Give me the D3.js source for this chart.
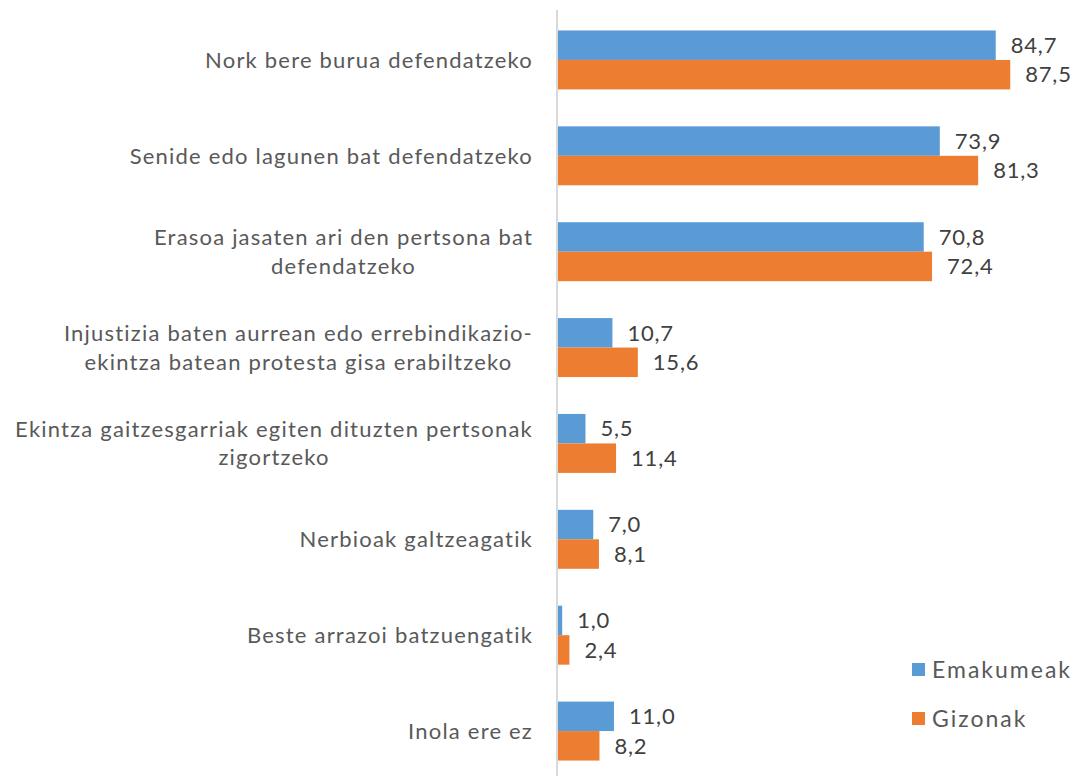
<!DOCTYPE html>
<html>
<head>
<meta charset="utf-8">
<script src="https://cdn.jsdelivr.net/npm/d3@7"></script>
<style>
  body { margin: 0; background: #fff; }
  text { font-family: Lato, "Open Sans", sans-serif; }
</style>
</head>
<body>
<svg width="1090" height="776"></svg>
<script>
// categories, wrapped the way the source chart wraps them
const categories = [
  ["Nork bere burua defendatzeko"],
  ["Senide edo lagunen bat defendatzeko"],
  ["Erasoa jasaten ari den pertsona bat", "defendatzeko"],
  ["Injustizia baten aurrean edo errebindikazio-", "ekintza batean protesta gisa erabiltzeko"],
  ["Ekintza gaitzesgarriak egiten dituzten pertsonak", "zigortzeko"],
  ["Nerbioak galtzeagatik"],
  ["Beste arrazoi batzuengatik"],
  ["Inola ere ez"]
];
const seriesNames = ["Emakumeak", "Gizonak"];
const emakumeak = [84.7, 73.9, 70.8, 10.7, 5.5, 7.0, 1.0, 11.0];
const gizonak = [87.5, 81.3, 72.4, 15.6, 11.4, 8.1, 2.4, 8.2];
const colors = ["#5b9bd5", "#ed7d31"];

const svg = d3.select("svg");
const fontSize = 22;

let x = d3.scaleLinear()
  .domain([0, 100])
  .range([557, 557 + 518]);

let y = d3.scaleBand()
  .domain(d3.range(categories.length))
  .range([12, 779])
  .paddingInner(0.385)
  .paddingOuter(0.1925);

let ySub = d3.scaleBand()
  .domain([0, 1])
  .range([0, y.bandwidth()]);

let rows = categories.map((c, i) => ({ i: i, label: c, vals: [emakumeak[i], gizonak[i]] }));

// category labels
let labelRight = 533;
let lab = svg.append("g").attr("class", "labels");
rows.forEach(r => {
  let cy = y(r.i) + y.bandwidth() / 2;
  let t = lab.append("text")
    .attr("fill", "#595959")
    .attr("font-size", fontSize)
    .attr("letter-spacing", 1.2)
    .attr("text-anchor", "middle");
  let lineH = 28.5;
  let n = r.label.length;
  r.label.forEach((line, k) => {
    t.append("tspan")
      .attr("x", 0)
      .attr("y", cy + (k - (n - 1) / 2) * lineH)
      .attr("dy", "0.35em")
      .text(line);
  });
  let w = t.node().getBBox().width;
  t.attr("transform", `translate(${labelRight - w / 2},0)`);
});

// bars
let groups = svg.append("g").selectAll("g")
  .data(rows)
  .enter().append("g")
    .attr("transform", d => `translate(0,${y(d.i)})`);

groups.selectAll("rect")
  .data(d => d.vals.map((v, s) => ({ v: v, s: s })))
  .enter().append("rect")
    .attr("x", x(0))
    .attr("y", d => ySub(d.s))
    .attr("height", ySub.bandwidth())
    .attr("width", d => x(d.v) - x(0))
    .attr("fill", d => colors[d.s]);

groups.selectAll("text")
  .data(d => d.vals.map((v, s) => ({ v: v, s: s })))
  .enter().append("text")
    .attr("x", d => x(d.v) + 15)
    .attr("y", d => ySub(d.s) + ySub.bandwidth() / 2)
    .attr("dy", "0.35em")
    .attr("fill", "#404040")
    .attr("font-size", fontSize)
    .attr("letter-spacing", 0.8)
    .text(d => d3.format(".1f")(d.v).replace(".", ","));

// vertical axis line
svg.append("line")
  .attr("x1", x(0)).attr("x2", x(0))
  .attr("y1", 10).attr("y2", 776)
  .attr("stroke", "#d9d9d9")
  .attr("stroke-width", 2);

// legend
let legend = svg.append("g").attr("transform", "translate(912,663)");
seriesNames.forEach((name, s) => {
  let g = legend.append("g").attr("transform", `translate(0,${s * 49})`);
  g.append("rect").attr("width", 13).attr("height", 13).attr("fill", colors[s]);
  g.append("text")
    .attr("x", 20).attr("y", 6.5).attr("dy", "0.35em")
    .attr("fill", "#595959")
    .attr("font-size", 23)
    .attr("letter-spacing", 2)
    .text(name);
});
</script>
</body>
</html>
